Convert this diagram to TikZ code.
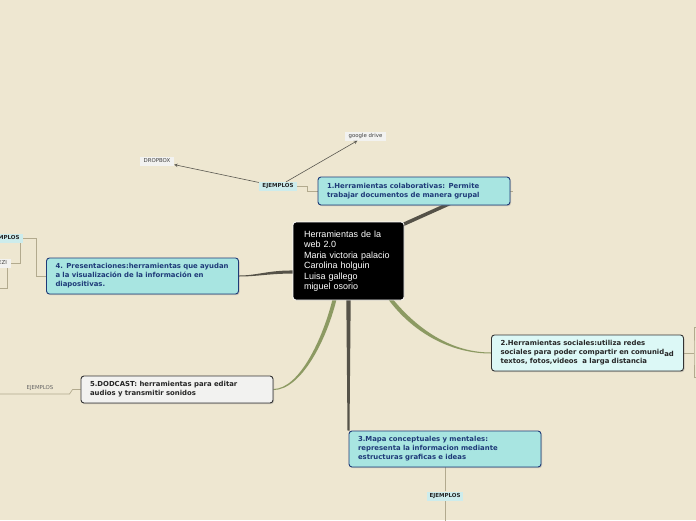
\documentclass[tikz,border=0pt]{standalone}
\usepackage{fontspec}
\setmainfont{DejaVu Sans}
\newfontfamily\hubfont{Liberation Sans}
\usetikzlibrary{calc,shadows,backgrounds}
\definecolor{paper}{RGB}{238,231,209}
\definecolor{navy}{RGB}{30,58,120}
\definecolor{aqua}{RGB}{168,229,225}
\definecolor{paleaqua}{RGB}{220,248,246}
\definecolor{palegray}{RGB}{242,242,240}
\definecolor{darkbranch}{RGB}{85,82,72}
\definecolor{olivebranch}{RGB}{140,154,98}
\definecolor{twig}{RGB}{178,170,142}
\definecolor{tagaqua}{RGB}{205,236,236}
\definecolor{tagwhite}{RGB}{242,242,240}
\definecolor{arrowgray}{RGB}{90,88,80}
\tikzset{
  topic/.style={rounded corners=3pt, line width=0.9pt, text width=174pt, inner xsep=9pt, inner ysep=2pt, align=left,
    font=\fontsize{6.9}{9}\selectfont\bfseries, drop shadow={shadow xshift=1pt, shadow yshift=-1.2pt, opacity=.35}},
  bluetopic/.style={topic, draw=navy, fill=aqua, text=navy},
  greytopic/.style={topic, draw=black!80, text=black!85},
  tag/.style={inner sep=0pt, minimum height=9pt, text=black!75, font=\fontsize{5.4}{6}\selectfont},
  boldtag/.style={tag, fill=tagaqua, text=black!85, minimum width=38pt, font=\fontsize{5.5}{6}\selectfont\bfseries},
  twigline/.style={draw=twig, line width=0.7pt},
  arrowline/.style={draw=arrowgray, line width=0.6pt}
}
\begin{document}
\begin{tikzpicture}[x=1pt, y=-1pt, >=stealth, line join=round]
  \useasboundingbox (0,0) rectangle (696,520);
  % central topic
  \node[fill=black, draw=white, line width=0.8pt, rounded corners=3pt, text=white, text width=89pt, inner xsep=11pt,
    minimum height=78pt, align=left, font=\hubfont\fontsize{9}{10.5}\selectfont] (hub) at (348.5,261)
    {Herramientas de la\\web 2.0\\Maria victoria palacio\\Carolina holguin\\Luisa gallego\\miguel osorio};
  % main topics
  \node[bluetopic, minimum height=28pt] (n1) at (414,191) {1.Herramientas colaborativas: Permite\\trabajar documentos de manera grupal};
  \node[greytopic, fill=paleaqua, minimum height=36pt] (n2) at (587.5,353) {2.Herramientas sociales:utiliza redes\\sociales para poder compartir en comunid\raisebox{-1.5pt}{ad}\\textos, fotos,videos\ \ a larga distancia};
  \node[bluetopic, minimum height=36pt] (n3) at (445,449) {3.Mapa conceptuales y mentales:\\representa la informacion mediante\\estructuras graficas e ideas};
  \node[bluetopic, minimum height=36pt] (n4) at (142.5,276) {4. Presentaciones:herramientas que ayudan\\a la visualización de la información en\\diapositivas.};
  \node[greytopic, fill=palegray, minimum height=27pt] (n5) at (177,389.5) {5.DODCAST: herramientas para editar\\audios y transmitir sonidos};
  % examples
  \node[boldtag] (ej1) at (278,186.5) {EJEMPLOS};
  \node[tag, fill=tagwhite, minimum width=34pt] (dropbox) at (157,161) {DROPBOX};
  \node[tag, fill=tagwhite, minimum width=41pt] (gdrive) at (365.5,136) {google drive};
  \node[boldtag] (ej4) at (4,238) {EJEMPLOS};
  \node[tag, fill=tagwhite, minimum width=24pt] (prezi) at (-1,263) {PREZI};
  \node[boldtag, minimum width=36pt] (ej3) at (445,496) {EJEMPLOS};
  \node[tag, text=black!60] (ej5) at (40,388) {EJEMPLOS};
  \coordinate (off3) at (445,530);
  \coordinate (off4) at (-5,288);
  \coordinate (off5) at (-5,394);
  \coordinate (fork2) at (694,353);
  \draw[->, arrowline] (ej1) -- (dropbox);
  \draw[->, arrowline] (ej1) -- (gdrive);
  \begin{scope}[on background layer]
    \fill[paper] (0,0) rectangle (696,520);
    % branches
    \draw[darkbranch, line width=3.5pt] ($(hub.north east)+(-6,5)$) -- ($(n1.south)+(36,-2)$);
    \fill[darkbranch] ($(hub.south)+(-2.2,-2)$) -- ($(hub.south)+(2.2,-2)$) -- ($(hub.south |- n3.north)+(1,0)$) -- ($(hub.south |- n3.north)+(-1,0)$) -- cycle;
    \fill[darkbranch] ($(hub.west)+(3,9.5)$) .. controls (268,270) and (258,275.5) .. ($(n4.east)+(0,-0.5)$) -- ($(n4.east)+(0,0.5)$) .. controls (258,276.5) and (268,273.5) .. ($(hub.west)+(3,12.5)$) -- cycle;
    \fill[olivebranch] ($(hub.south east)+(-13,-3)$) .. controls (412,323) and (446,352.5) .. ($(n2.west)+(0,-0.5)$) -- ($(n2.west)+(0,0.5)$) .. controls (444,353.5) and (407,326) .. ($(hub.south east)+(-17.5,-3)$) -- cycle;
    \fill[olivebranch] ($(hub.south)+(-11.5,-3)$) .. controls (327,340) and (301,390) .. ($(n5.east)+(0,0.5)$) -- ($(n5.east)+(0,-0.5)$) .. controls (299,389) and (323,339) .. ($(hub.south)+(-15.5,-3)$) -- cycle;
    % sub branches
    \draw[twigline] (n1.west) -- ++(-10,0) |- (ej1.east);
    \draw[twigline] (n1.east) -- ++(3,0);
    \draw[twigline] (n2.east) -- (fork2);
    \draw[twigline] (700,327) -| (fork2) |- (700,377);
    \draw[twigline] (n3.south) -- (ej3);
    \draw[twigline] (ej3) -- (off3);
    \draw[twigline] (n4.west) -- ++(-10,0) |- (ej4.east);
    \draw[twigline] ($(ej4.south east)+(-3,0)$) |- (prezi.east);
    \draw[twigline] ($(prezi.south east)+(-4,0)$) |- (off4);
    \draw[twigline] (n5.west) -- ++(-8,0) -- ++(-3,4.5) -- (off5);
  \end{scope}
\end{tikzpicture}
\end{document}
